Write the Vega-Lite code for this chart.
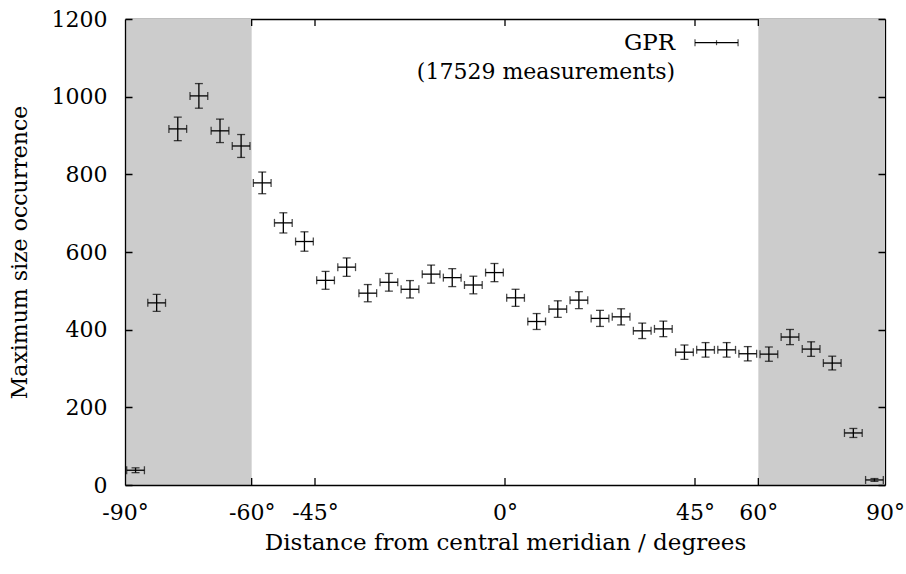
{
  "$schema": "https://vega.github.io/schema/vega-lite/v6.json",
  "width": 760,
  "height": 466,
  "autosize": "none",
  "padding": {"left": 125, "top": 19, "right": 21, "bottom": 89},
  "background": "white",
  "config": {
    "view": {"stroke": null},
    "font": "DejaVu Serif",
    "axis": {
      "domainColor": "black",
      "domainWidth": 1.3,
      "gridColor": "black",
      "gridWidth": 1.3,
      "gridOpacity": 1,
      "labelColor": "black",
      "labelFont": "DejaVu Serif",
      "labelFontSize": 22,
      "labelFlush": false,
      "labelOverlap": false,
      "labelBound": false,
      "titleFont": "DejaVu Serif",
      "titleFontSize": 22,
      "titleFontWeight": "normal",
      "titleColor": "black",
      "zindex": 1
    }
  },
  "datasets": {
    "shade": [
      {"from": -90, "to": -60},
      {"from": 60, "to": 90}
    ],
    "xticks": [
      {"v": -60}, {"v": -45}, {"v": 0}, {"v": 45}, {"v": 60}
    ],
    "gpr": [
      {"lon": -87.5, "n": 38, "err": 6.2, "xerr": 2.1},
      {"lon": -82.5, "n": 469, "err": 21.7, "xerr": 2.1},
      {"lon": -77.5, "n": 917, "err": 30.3, "xerr": 2.1},
      {"lon": -72.5, "n": 1002, "err": 31.7, "xerr": 2.1},
      {"lon": -67.5, "n": 912, "err": 30.2, "xerr": 2.1},
      {"lon": -62.5, "n": 873, "err": 29.5, "xerr": 2.1},
      {"lon": -57.5, "n": 778, "err": 27.9, "xerr": 2.1},
      {"lon": -52.5, "n": 675, "err": 26.0, "xerr": 2.1},
      {"lon": -47.5, "n": 627, "err": 25.0, "xerr": 2.1},
      {"lon": -42.5, "n": 527, "err": 23.0, "xerr": 2.1},
      {"lon": -37.5, "n": 561, "err": 23.7, "xerr": 2.1},
      {"lon": -32.5, "n": 494, "err": 22.2, "xerr": 2.1},
      {"lon": -27.5, "n": 522, "err": 22.8, "xerr": 2.1},
      {"lon": -22.5, "n": 504, "err": 22.4, "xerr": 2.1},
      {"lon": -17.5, "n": 543, "err": 23.3, "xerr": 2.1},
      {"lon": -12.5, "n": 534, "err": 23.1, "xerr": 2.1},
      {"lon": -7.5, "n": 515, "err": 22.7, "xerr": 2.1},
      {"lon": -2.5, "n": 547, "err": 23.4, "xerr": 2.1},
      {"lon": 2.5, "n": 482, "err": 22.0, "xerr": 2.1},
      {"lon": 7.5, "n": 421, "err": 20.5, "xerr": 2.1},
      {"lon": 12.5, "n": 453, "err": 21.3, "xerr": 2.1},
      {"lon": 17.5, "n": 476, "err": 21.8, "xerr": 2.1},
      {"lon": 22.5, "n": 429, "err": 20.7, "xerr": 2.1},
      {"lon": 27.5, "n": 433, "err": 20.8, "xerr": 2.1},
      {"lon": 32.5, "n": 397, "err": 19.9, "xerr": 2.1},
      {"lon": 37.5, "n": 402, "err": 20.0, "xerr": 2.1},
      {"lon": 42.5, "n": 342, "err": 18.5, "xerr": 2.1},
      {"lon": 47.5, "n": 348, "err": 18.7, "xerr": 2.1},
      {"lon": 52.5, "n": 348, "err": 18.7, "xerr": 2.1},
      {"lon": 57.5, "n": 338, "err": 18.4, "xerr": 2.1},
      {"lon": 62.5, "n": 337, "err": 18.4, "xerr": 2.1},
      {"lon": 67.5, "n": 381, "err": 19.5, "xerr": 2.1},
      {"lon": 72.5, "n": 350, "err": 18.7, "xerr": 2.1},
      {"lon": 77.5, "n": 314, "err": 17.7, "xerr": 2.1},
      {"lon": 82.5, "n": 134, "err": 11.6, "xerr": 2.1},
      {"lon": 87.5, "n": 13, "err": 3.6, "xerr": 2.1}
    ],
    "one": [{}]
  },
  "layer": [
    {
      "data": {"name": "shade"},
      "mark": {"type": "rect", "color": "#cccccc"},
      "encoding": {
        "x": {"field": "from", "type": "quantitative", "scale": {"domain": [-90, 90], "nice": false, "zero": false}, "axis": null},
        "x2": {"field": "to"}
      }
    },
    {
      "data": {"name": "xticks"},
      "mark": {"type": "tick", "orient": "vertical", "color": "black", "size": 7, "thickness": 1.3, "opacity": 1},
      "encoding": {
        "x": {"field": "v", "type": "quantitative", "axis": null},
        "y": {"datum": 9, "type": "quantitative", "axis": null}
      }
    },
    {
      "data": {"name": "xticks"},
      "mark": {"type": "tick", "orient": "vertical", "color": "black", "size": 7, "thickness": 1.3, "opacity": 1},
      "encoding": {
        "x": {"field": "v", "type": "quantitative", "axis": null},
        "y": {"datum": 1191, "type": "quantitative", "axis": null}
      }
    },
    {
      "data": {"name": "gpr"},
      "mark": {"type": "errorbar", "color": "black", "thickness": 1.3, "ticks": {"size": 8, "thickness": 1.3, "color": "black"}},
      "encoding": {
        "x": {
          "field": "lon", "type": "quantitative",
          "scale": {"domain": [-90, 90], "nice": false, "zero": false},
          "axis": {
            "orient": "bottom",
            "values": [-90, -60, -45, 0, 45, 60, 90],
            "labelExpr": "datum.value + '°'",
            "domain": true,
            "ticks": false,
            "tickSize": 0,
            "grid": false,
            "zindex": 1,
            "labelPadding": 17,
            "title": "Distance from central meridian / degrees",
            "titleFontSize": 23,
            "titlePadding": 8
          }
        },
        "y": {
          "field": "n", "type": "quantitative",
          "scale": {"domain": [0, 1200], "nice": false},
          "axis": {
            "orient": "left",
            "values": [0, 200, 400, 600, 800, 1000, 1200],
            "format": "d",
            "domain": true,
            "ticks": false,
            "tickSize": 0,
            "grid": true,
            "gridDash": [7, 746],
            "zindex": 1,
            "labelPadding": 18,
            "title": "Maximum size occurrence",
            "titlePadding": 20
          }
        },
        "yError": {"field": "err"}
      }
    },
    {
      "data": {"name": "gpr"},
      "mark": {"type": "errorbar", "color": "black", "thickness": 1.3, "ticks": {"size": 8, "thickness": 1.3, "color": "black"}},
      "encoding": {
        "y": {
          "field": "n", "type": "quantitative",
          "axis": {"orient": "right", "values": [0, 1200], "domain": true, "grid": false, "ticks": false, "labels": false, "title": null}
        },
        "x": {
          "field": "lon", "type": "quantitative",
          "axis": {"orient": "top", "values": [-90, 90], "domain": true, "grid": false, "ticks": false, "labels": false, "title": null}
        },
        "xError": {"field": "xerr"}
      }
    },
    {
      "data": {"name": "one"},
      "mark": {"type": "rule", "color": "black", "strokeWidth": 1.2},
      "encoding": {
        "x": {"datum": 45, "type": "quantitative", "axis": null},
        "x2": {"datum": 55.2},
        "y": {"datum": 1139, "type": "quantitative", "axis": null}
      }
    },
    {
      "data": {"name": "one"},
      "mark": {"type": "tick", "orient": "vertical", "color": "black", "size": 7, "thickness": 1.2},
      "encoding": {
        "x": {"datum": 45, "type": "quantitative", "axis": null},
        "y": {"datum": 1139, "type": "quantitative", "axis": null}
      }
    },
    {
      "data": {"name": "one"},
      "mark": {"type": "tick", "orient": "vertical", "color": "black", "size": 7, "thickness": 1.2},
      "encoding": {
        "x": {"datum": 55.2, "type": "quantitative", "axis": null},
        "y": {"datum": 1139, "type": "quantitative", "axis": null}
      }
    },
    {
      "data": {"name": "one"},
      "mark": {"type": "tick", "orient": "vertical", "color": "black", "size": 5, "thickness": 1.2},
      "encoding": {
        "x": {"datum": 50.1, "type": "quantitative", "axis": null},
        "y": {"datum": 1139, "type": "quantitative", "axis": null}
      }
    },
    {
      "data": {"name": "one"},
      "mark": {"type": "text", "align": "right", "baseline": "middle", "fontSize": 23, "font": "DejaVu Serif", "color": "black", "text": "GPR"},
      "encoding": {
        "x": {"datum": 40.3, "type": "quantitative", "axis": null},
        "y": {"datum": 1139, "type": "quantitative", "axis": null}
      }
    },
    {
      "data": {"name": "one"},
      "mark": {"type": "text", "align": "right", "baseline": "middle", "fontSize": 22, "font": "DejaVu Serif", "color": "black", "text": "(17529 measurements)"},
      "encoding": {
        "x": {"datum": 40.3, "type": "quantitative", "axis": null},
        "y": {"datum": 1063, "type": "quantitative", "axis": null}
      }
    }
  ],
  "resolve": {"axis": {"x": "independent", "y": "independent"}}
}
